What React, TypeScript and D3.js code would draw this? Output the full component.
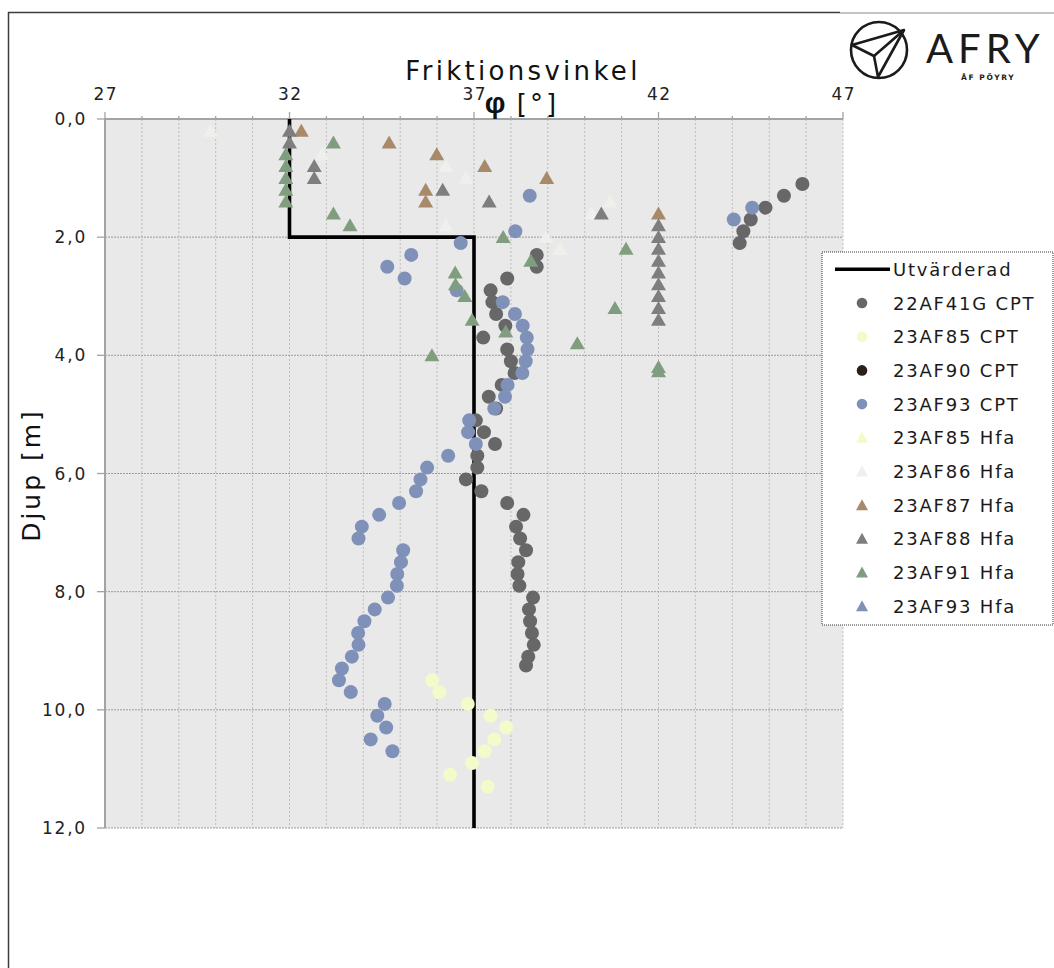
import React from "react";
import * as d3 from "d3";

// ---------- data (depth [m], friction angle φ [°]) ----------
const xTicks = [27, 32, 37, 42, 47];
const yTicks = [0, 2, 4, 6, 8, 10, 12];

const utvarderad: [number, number][] = [
  [0, 32], [2.0, 32], [2.0, 37], [12.0, 37],
];

const s22AF41G_CPT: [number, number][] = [
  [1.1, 45.9], [1.3, 45.4], [1.5, 44.9], [1.7, 44.5], [1.9, 44.3], [2.1, 44.2],
  [2.3, 38.7], [2.5, 38.7], [2.7, 37.9], [2.9, 37.45], [3.1, 37.5], [3.3, 37.6],
  [3.5, 37.85], [3.7, 37.25], [3.9, 37.9], [4.1, 38.0], [4.3, 38.1], [4.5, 37.75],
  [4.7, 37.4], [4.9, 37.6], [5.1, 37.05], [5.3, 37.27], [5.5, 37.57], [5.7, 37.09],
  [5.9, 37.09], [6.1, 36.78], [6.3, 37.2], [6.5, 37.9], [6.7, 38.34], [6.9, 38.14],
  [7.1, 38.25], [7.3, 38.41], [7.5, 38.2], [7.7, 38.18], [7.9, 38.23], [8.1, 38.6],
  [8.3, 38.49], [8.5, 38.52], [8.7, 38.57], [8.9, 38.62], [9.1, 38.47], [9.25, 38.41],
];

const s23AF85_CPT: [number, number][] = [
  [9.5, 35.87], [9.7, 36.06], [9.9, 36.83], [10.1, 37.45], [10.3, 37.87],
  [10.5, 37.55], [10.7, 37.29], [10.9, 36.95], [11.1, 36.35], [11.3, 37.37],
];

const s23AF90_CPT: [number, number][] = [];

const s23AF93_CPT: [number, number][] = [
  [1.3, 38.51], [1.5, 44.54], [1.7, 44.04], [1.9, 38.12], [2.1, 36.64], [2.3, 35.3],
  [2.5, 34.65], [2.7, 35.12], [2.9, 36.53], [3.1, 37.78], [3.3, 38.11], [3.5, 38.32],
  [3.7, 38.43], [3.9, 38.45], [4.1, 38.4], [4.3, 38.31], [4.5, 37.91], [4.7, 37.84],
  [4.9, 37.55], [5.1, 36.87], [5.3, 36.84], [5.5, 37.05], [5.7, 36.3], [5.9, 35.73],
  [6.1, 35.55], [6.3, 35.43], [6.5, 34.97], [6.7, 34.43], [6.9, 33.96], [7.1, 33.87],
  [7.3, 35.08], [7.5, 35.02], [7.7, 34.92], [7.9, 34.91], [8.1, 34.67], [8.3, 34.31],
  [8.5, 34.03], [8.7, 33.86], [8.9, 33.87], [9.1, 33.69], [9.3, 33.42], [9.5, 33.34],
  [9.7, 33.66], [9.9, 34.58], [10.1, 34.38], [10.3, 34.62], [10.5, 34.2], [10.7, 34.79],
];

const s23AF85_Hfa: [number, number][] = [];

const s23AF86_Hfa: [number, number][] = [
  [0.2, 29.86], [0.6, 32.88], [0.8, 36.24], [1.0, 36.78], [1.2, 36.1], [1.4, 40.68],
  [1.6, 40.19], [1.8, 36.24], [2.0, 38.95], [2.2, 39.33],
];

const s23AF87_Hfa: [number, number][] = [
  [0.2, 32.32], [0.4, 34.7], [0.6, 35.99], [0.8, 37.29], [1.0, 38.97], [1.2, 35.69],
  [1.4, 35.69], [1.6, 42.0],
];

const s23AF88_Hfa: [number, number][] = [
  [0.2, 32.0], [0.4, 32.0], [0.8, 32.67], [1.0, 32.67], [1.2, 36.15], [1.4, 37.41],
  [1.6, 40.45], [1.8, 42], [2.0, 42], [2.2, 42], [2.4, 42], [2.6, 42], [2.8, 42],
  [3.0, 42], [3.2, 42], [3.4, 42],
];

const s23AF91_Hfa: [number, number][] = [
  [0.4, 33.19], [0.6, 31.9], [0.8, 31.9], [1.0, 31.9], [1.2, 31.9], [1.4, 31.9],
  [1.6, 33.19], [1.8, 33.64], [2.0, 37.79], [2.2, 41.12], [2.4, 38.54], [2.6, 36.49],
  [2.8, 36.5], [3.0, 36.75], [3.2, 40.82], [3.4, 36.95], [3.6, 37.86], [3.8, 39.8],
  [4.0, 35.86], [4.2, 42.0], [4.27, 42.0],
];

const s23AF93_Hfa: [number, number][] = [];

type Series = { name: string; data: [number, number][]; shape: "circle" | "triangle"; color: string };

const series: Series[] = [
  { name: "22AF41G CPT", data: s22AF41G_CPT, shape: "circle", color: "#676767" },
  { name: "23AF85 CPT", data: s23AF85_CPT, shape: "circle", color: "#f3fbcb" },
  { name: "23AF90 CPT", data: s23AF90_CPT, shape: "circle", color: "#2a1f19" },
  { name: "23AF93 CPT", data: s23AF93_CPT, shape: "circle", color: "#7f91b8" },
  { name: "23AF85 Hfa", data: s23AF85_Hfa, shape: "triangle", color: "#f3fbcb" },
  { name: "23AF86 Hfa", data: s23AF86_Hfa, shape: "triangle", color: "#efefeb" },
  { name: "23AF87 Hfa", data: s23AF87_Hfa, shape: "triangle", color: "#a88a6b" },
  { name: "23AF88 Hfa", data: s23AF88_Hfa, shape: "triangle", color: "#7e7e7e" },
  { name: "23AF91 Hfa", data: s23AF91_Hfa, shape: "triangle", color: "#809e7f" },
  { name: "23AF93 Hfa", data: s23AF93_Hfa, shape: "triangle", color: "#7f91b8" },
];

// ---------- layout ----------
const W = 1054;
const H = 968;
const PL = 105, PR = 843, PT = 119, PB = 828;
const FONT = "'DejaVu Sans', Verdana, sans-serif";

const x = d3.scaleLinear().domain([27, 47]).range([PL, PR]);
const y = d3.scaleLinear().domain([0, 12]).range([PT, PB]);

const tri = (cx: number, cy: number, w: number, h: number) =>
  `M${cx},${cy - h * 0.55}L${cx + w / 2},${cy + h * 0.45}L${cx - w / 2},${cy + h * 0.45}Z`;

const fmtDepth = (v: number) => d3.format(".1f")(v).replace(".", ",");

export default function App() {
  const minorX = d3.range(27, 47.001, 1);
  const line = d3
    .line<[number, number]>()
    .x((d) => x(d[1]))
    .y((d) => y(d[0]));

  const legX = 822, legY = 252, legW = 231, legH = 373;
  const legItems = [{ name: "Utvärderad", shape: "line", color: "#000" } as any, ...series];
  const legStep = 33.7;

  return (
    <svg
      width={W}
      height={H}
      style={{ position: "absolute", left: 0, top: 0, display: "block", background: "#fff" }}
      fontFamily={FONT}
    >
      {/* outer frame */}
      <line x1={8.5} y1={12} x2={8.5} y2={H} stroke="#3c3c3c" strokeWidth={1.5} />
      <line x1={8} y1={12.5} x2={840} y2={12.5} stroke="#3c3c3c" strokeWidth={1.5} />
      <line x1={840} y1={13} x2={W} y2={13} stroke="#8a8a8a" strokeWidth={1.2} />

      {/* plot background */}
      <rect x={PL} y={PT} width={PR - PL} height={PB - PT} fill="#e9e9e9" />

      {/* vertical grid */}
      {minorX.map((v) => (
        <line key={"gx" + v} x1={x(v)} x2={x(v)} y1={PT} y2={PB} stroke="#bdbdbd" strokeWidth={1} strokeDasharray="2,2" />
      ))}
      {/* horizontal grid */}
      {yTicks.map((v) => (
        <line key={"gy" + v} x1={PL} x2={PR} y1={y(v)} y2={y(v)} stroke="#9c9c9c" strokeWidth={1} strokeDasharray="2,1" />
      ))}

      {/* axes */}
      <line x1={PL} x2={PR} y1={PT} y2={PT} stroke="#a3a3a3" strokeWidth={2} />
      <line x1={PL} x2={PL} y1={PT - 1} y2={PB} stroke="#a3a3a3" strokeWidth={2} />
      {minorX.map((v) => (
        <line key={"tx" + v} x1={x(v)} x2={x(v)} y1={PT} y2={xTicks.includes(v) ? PT - 7 : PT - 3} stroke="#a3a3a3" strokeWidth={1.3} />
      ))}
      {yTicks.map((v) => (
        <line key={"ty" + v} x1={PL - 8} x2={PL} y1={y(v)} y2={y(v)} stroke="#a3a3a3" strokeWidth={1.3} />
      ))}

      {/* tick labels */}
      {xTicks.map((v) => (
        <text key={"lx" + v} x={x(v) + 0.8} y={100} textAnchor="middle" fontSize={17} letterSpacing={1.5} fill="#222">
          {v}
        </text>
      ))}
      {yTicks.map((v) => (
        <text key={"ly" + v} x={87} y={y(v)} textAnchor="end" dominantBaseline="central" fontSize={17} letterSpacing={1.8} fill="#222">
          {fmtDepth(v)}
        </text>
      ))}

      {/* titles */}
      <text x={523} y={80} textAnchor="middle" fontSize={26} letterSpacing={3.3} fill="#111">
        Friktionsvinkel
      </text>
      <text x={522} y={113} textAnchor="middle" fontSize={26} fill="#111">
        <tspan fontWeight="bold" fontFamily="'Liberation Sans', Arial, sans-serif" fontSize={29}>φ</tspan>
        <tspan letterSpacing={3}> [°]</tspan>
      </text>
      <text
        transform={`translate(40,${475}) rotate(-90)`}
        textAnchor="middle"
        fontSize={25}
        letterSpacing={3}
        fill="#111"
      >
        Djup [m]
      </text>

      {/* evaluated line */}
      <path d={line(utvarderad) || ""} fill="none" stroke="#000" strokeWidth={3.6} />

      {/* series markers */}
      {series.map((s) => (
        <g key={s.name}>
          {s.data.map((d, i) =>
            s.shape === "circle" ? (
              <circle key={i} cx={x(d[1])} cy={y(d[0])} r={7} fill={s.color} />
            ) : (
              <path key={i} d={tri(x(d[1]), y(d[0]), 15, 13)} fill={s.color} />
            )
          )}
        </g>
      ))}

      {/* legend */}
      <rect x={legX} y={legY} width={legW} height={legH} fill="#fff" stroke="#333" strokeWidth={1} strokeDasharray="1,1" />
      {legItems.map((it: any, i: number) => {
        const cy = 269.3 + i * legStep;
        return (
          <g key={"leg" + i}>
            {it.shape === "line" ? (
              <line x1={835} x2={890} y1={cy} y2={cy} stroke="#000" strokeWidth={3.6} />
            ) : it.shape === "circle" ? (
              <circle cx={862} cy={cy} r={5.3} fill={it.color} />
            ) : (
              <path d={tri(862, cy, 12, 11)} fill={it.color} />
            )}
            <text x={893} y={cy} dominantBaseline="central" fontSize={18} letterSpacing={1.8} fill="#1a1a1a">
              {it.name}
            </text>
          </g>
        );
      })}

      {/* logo */}
      <g stroke="#1b1b1b" strokeWidth={2.6} fill="none" strokeLinejoin="round">
        <circle cx={879} cy={50} r={28} />
        <path d="M852,45 L904,30 L874,56 Z" />
        <path d="M904,30 L878,77 L874,56" />
      </g>
      <text x={926} y={63} fontSize={40} fontFamily="Lato, 'DejaVu Sans', sans-serif" fontWeight={400} letterSpacing={5} fill="#1b1b1b">
        AFRY
      </text>
      <text x={961} y={80} fontSize={7.5} fontWeight="bold" letterSpacing={1.6} fill="#1b1b1b">
        ÅF PÖYRY
      </text>
    </svg>
  );
}
